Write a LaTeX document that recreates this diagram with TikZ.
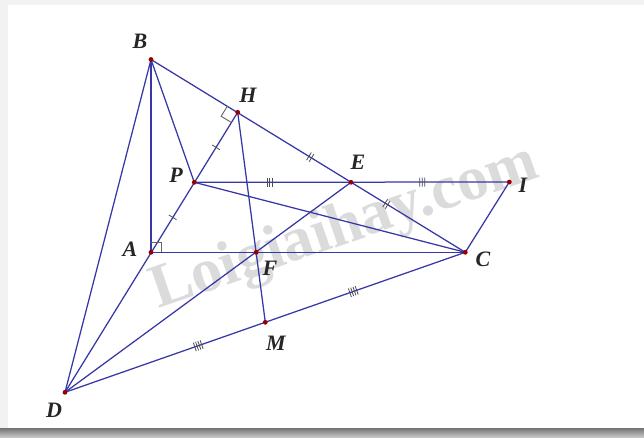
\documentclass[tikz,border=0pt]{standalone}
\usepackage{fontspec}
\setmainfont{Liberation Serif}
\usetikzlibrary{calc}
\definecolor{lncol}{RGB}{55,55,165}
\definecolor{dotcol}{RGB}{150,0,0}
\tikzset{
  seg/.style={draw=lncol, line width=1.25pt},
  lbl/.style={font=\fontsize{22}{22}\selectfont\bfseries\itshape, text=black!85, inner sep=0pt},
  tickline/.style={draw=black!70, line width=0.8pt},
  rightmark/.style={draw=black!60, line width=0.9pt},
  wmark/.style={font=\fontsize{62}{62}\selectfont\bfseries, text=black!14, inner sep=0pt},
}
\newcommand\marktick[4]{%
  \coordinate (tkcen) at ($(#1)!#3!(#2)$);
  \foreach \k in {#4} {
    \coordinate (tkc) at ($(tkcen)!\k pt!(#2)$);
    \draw[tickline] ($(tkc)!4.5pt!90:(#2)$) -- ($(tkc)!4.5pt!-90:(#2)$);
  }
}
\newcommand\rightangle[4]{%
  \coordinate (ra1) at ($(#1)!#4!(#2)$);
  \coordinate (ra2) at ($(#1)!#4!(#3)$);
  \draw[rightmark] (ra1) -- ($(ra1)+(ra2)-(#1)$) -- (ra2);
}
\begin{document}
\begin{tikzpicture}[x=1pt,y=-1pt]
\useasboundingbox (0,0) rectangle (644,437);
% background and card
\fill[black!5] (0,0) rectangle (644,437);
\shade[top color=black!55, bottom color=black!22] (0,428) rectangle (644,437);
\fill[white] (8,5) rectangle (644,428);
% watermark
\node[wmark, rotate=19] (wm) at (345,229) {Loigiaihay.com};
% points
\coordinate (B) at (151,59.5);
\coordinate (H) at (237.7,112.3);
\coordinate (P) at (194.3,182.3);
\coordinate (E) at (351,182.3);
\coordinate (I) at (509.3,182);
\coordinate (A) at (151,252.3);
\coordinate (F) at (256.2,252.3);
\coordinate (C) at (465.3,252.3);
\coordinate (M) at (265.3,322.3);
\coordinate (D) at (65,392.3);
% segments
\draw[seg] (B) -- (A);
\draw[seg] (B) -- (P);
\draw[seg] (B) -- (D);
\draw[seg] (B) -- (C);
\draw[seg] (D) -- (H);
\draw[seg] (H) -- (M);
\draw[seg] (P) -- (I);
\draw[seg] (P) -- (C);
\draw[seg] (A) -- (C);
\draw[seg] (D) -- (E);
\draw[seg] (D) -- (C);
\draw[seg] (C) -- (I);
% right angle marks
\rightangle{A}{B}{C}{10pt}
\rightangle{H}{B}{P}{12pt}
% equal-length ticks
\marktick{P}{H}{0.5}{0}
\marktick{P}{A}{0.5}{0}
\marktick{H}{E}{0.64}{-1.5,1.5}
\marktick{E}{C}{0.31}{-1.5,1.5}
\marktick{P}{E}{0.48}{-2.5,0,2.5}
\marktick{E}{I}{0.45}{-2.5,0,2.5}
\marktick{D}{M}{0.665}{-3.6,-1.2,1.2,3.6}
\marktick{M}{C}{0.44}{-3.6,-1.2,1.2,3.6}
% dots
\foreach \p in {B,H,P,E,I,A,F,C,M,D} {\fill[dotcol] (\p) circle (2.4pt);}
% labels
\node[lbl] (lB) at (140,41) {B};
\node[lbl] (lH) at (248,95) {H};
\node[lbl] (lP) at (176,175) {P};
\node[lbl] (lA) at (130,249) {A};
\node[lbl] (lE) at (358,162) {E};
\node[lbl] (lI) at (523,185) {I};
\node[lbl] (lC) at (483,259) {C};
\node[lbl] (lF) at (270,268) {F};
\node[lbl] (lM) at (276,343) {M};
\node[lbl] (lD) at (54,410) {D};
\end{tikzpicture}
\end{document}
